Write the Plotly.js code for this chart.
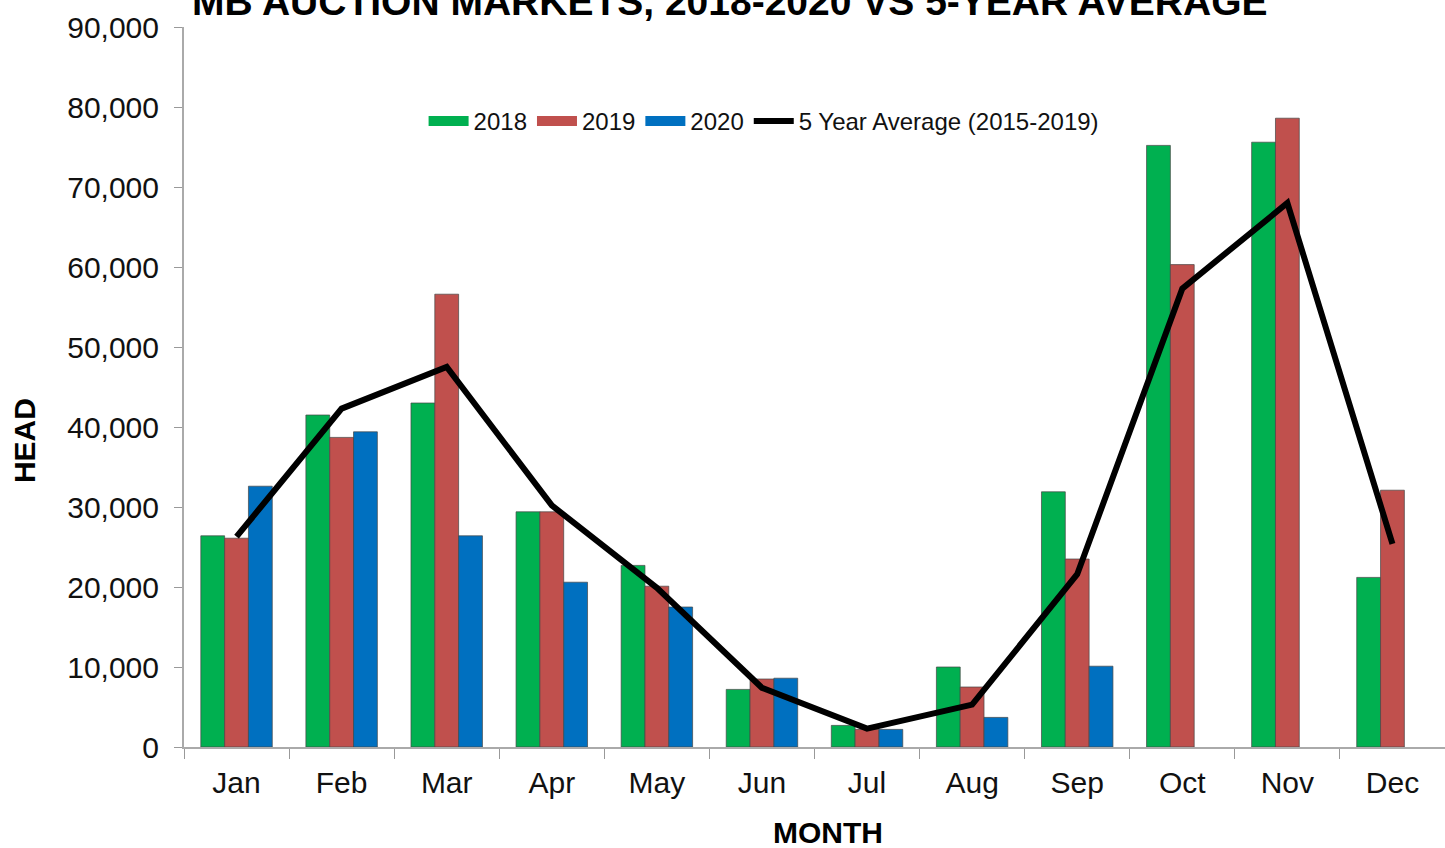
<!DOCTYPE html>
<html>
<head>
<meta charset="utf-8">
<script src="https://cdn.plot.ly/plotly-3.0.1.min.js"></script>
<style>html,body{margin:0;padding:0;background:#fff;}#chart{width:1445px;height:848px;}</style>
</head>
<body>
<div id="chart"></div>
<script>
const months = ["Jan","Feb","Mar","Apr","May","Jun","Jul","Aug","Sep","Oct","Nov","Dec"];
const head2018 = [26400, 41500, 43000, 29400, 22700, 7200, 2700, 10000, 31900, 75200, 75600, 21200];
const head2019 = [26100, 38700, 56600, 29400, 20100, 8500, 2200, 7500, 23500, 60300, 78600, 32100];
const head2020 = [32600, 39400, 26400, 20600, 17500, 8600, 2200, 3700, 10100, null, null, null];
const avg5yr = [26300, 42300, 47500, 30200, 19900, 7400, 2300, 5300, 21600, 57300, 68000, 25400];
const seriesNames = ["2018", "2019", "2020", "5 Year Average (2015-2019)"];
const seriesColors = ["#00B050", "#C0504D", "#0070C0", "#000000"];
const emptyY = months.map(() => null);

const barLine = {color: 'rgba(70,70,70,0.7)', width: 1};
const barData = [head2018, head2019, head2020];
const traces = [];
barData.forEach((vals, i) => {
  traces.push({type: 'bar', name: seriesNames[i], x: months, y: vals, showlegend: false,
               legendgroup: seriesNames[i], marker: {color: seriesColors[i], line: barLine}});
});
traces.push({type: 'scatter', mode: 'lines', name: seriesNames[3], x: months, y: avg5yr, showlegend: false,
             legendgroup: seriesNames[3], line: {color: seriesColors[3], width: 6}});
// legend proxies (wide swatches like the original)
seriesNames.forEach((nm, i) => {
  traces.push({type: 'scatter', mode: 'lines', name: nm, x: months, y: emptyY, legendgroup: nm,
               hoverinfo: 'skip', line: {color: seriesColors[i], width: i < 3 ? 13 : 6}});
});

const font = "'Liberation Sans', Arial, sans-serif";
const layout = {
  width: 1445, height: 848,
  margin: {l: 184, r: 0, t: 27, b: 101},
  paper_bgcolor: '#fff', plot_bgcolor: '#fff',
  font: {family: font, color: '#111'},
  barmode: 'group', bargap: 0.32, bargroupgap: 0,
  title: {text: '<b>MB AUCTION MARKETS, 2018-2020 VS 5-YEAR AVERAGE</b>', font: {family: font, size: 39, color: '#000'},
          xref: 'container', x: 0.505, xanchor: 'center', yref: 'container', y: 0.999, yanchor: 'middle'},
  xaxis: {
    type: 'category', tickson: 'boundaries', ticks: 'outside', ticklen: 10, tickcolor: '#999',
    showline: true, linecolor: '#aaa', linewidth: 2, showgrid: false,
    tickfont: {size: 30, color: '#111'}, ticklabelstandoff: 8
  },
  yaxis: {
    range: [0, 90000], dtick: 10000, tickformat: ',', ticks: 'outside', ticklen: 8, tickcolor: '#999',
    showline: true, linecolor: '#aaa', linewidth: 2, showgrid: false, zeroline: false,
    tickfont: {size: 30, color: '#111'}, ticklabelstandoff: 9
  },
  annotations: [
    {text: '<b>HEAD</b>', xref: 'paper', yref: 'paper', x: -0.126, y: 0.425, xanchor: 'center', yanchor: 'middle',
     textangle: -90, showarrow: false, font: {size: 30, color: '#000'}},
    {text: '<b>MONTH</b>', xref: 'paper', yref: 'paper', x: 0.511, y: -0.119, xanchor: 'center', yanchor: 'middle',
     showarrow: false, font: {size: 30, color: '#000'}}
  ],
  legend: {orientation: 'h', x: 0.19, xanchor: 'left', y: 0.869, yanchor: 'middle',
           font: {size: 24, color: '#111'}, bgcolor: 'rgba(0,0,0,0)', traceorder: 'normal',
           itemwidth: 40, tracegroupgap: 0}
};
Plotly.newPlot('chart', traces, layout, {displayModeBar: false});
</script>
</body>
</html>
